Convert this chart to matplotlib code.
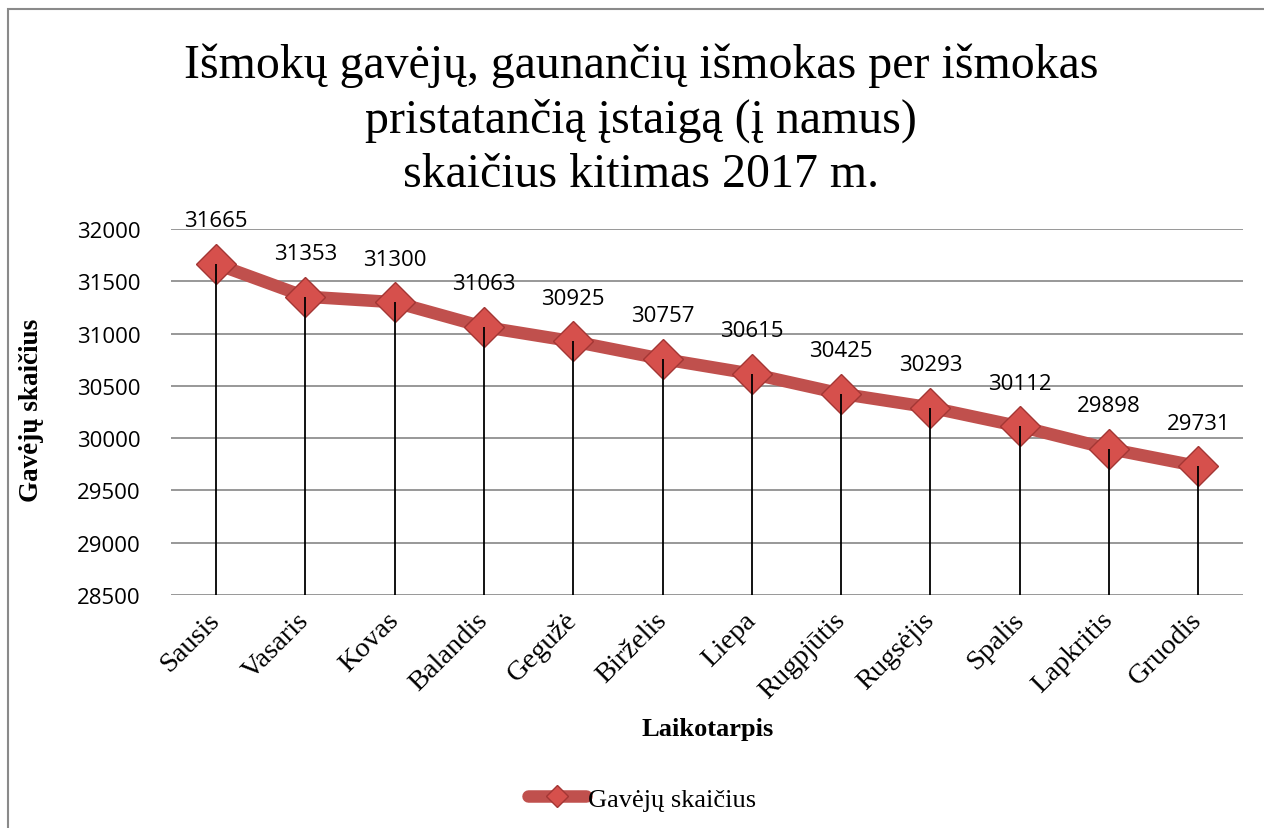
import numpy as np
import matplotlib
matplotlib.use("Agg")
import matplotlib.pyplot as plt
from matplotlib.patches import Rectangle

months = ["Sausis", "Vasaris", "Kovas", "Balandis", "Gegužė", "Birželis",
          "Liepa", "Rugpjūtis", "Rugsėjis", "Spalis", "Lapkritis", "Gruodis"]
recipients = [31665, 31353, 31300, 31063, 30925, 30757,
              30615, 30425, 30293, 30112, 29898, 29731]
y_ticks = [28500, 29000, 29500, 30000, 30500, 31000, 31500, 32000]

serif = "Liberation Serif"
sans = "Open Sans"
line_color = "#C0504D"

fig = plt.figure(figsize=(12.64, 8.29), dpi=100)
ax = fig.add_axes([0.1356, 0.281, 0.8478, 0.4416])

# outer chart border
fig.add_artist(Rectangle((8 / 1264, -0.1), 1.2, (829 - 10) / 829 + 0.1,
                         transform=fig.transFigure, fill=False,
                         edgecolor="#8a8a8a", linewidth=1.5))

x = np.arange(len(months))
ax.plot(x, recipients, color=line_color, linewidth=9, solid_capstyle="round",
        marker="D", markersize=20, markerfacecolor="#D6504C",
        markeredgecolor="#A33634", markeredgewidth=1.0, zorder=3,
        label="Gavėjų skaičius")
ax.vlines(x, y_ticks[0], recipients, color="black", linewidth=1.3, zorder=4)

for xi, v in zip(x, recipients):
    ax.annotate(str(v), (xi, v), xytext=(0, 31), textcoords="offset points",
                ha="center", va="center", fontsize=16, family=sans)

ax.set_xlim(-0.5, len(months) - 0.5)
ax.set_ylim(y_ticks[0], y_ticks[-1])
ax.set_yticks(y_ticks)
ax.set_xticks(x)
ax.set_xticklabels(months, rotation=45, ha="right", va="center",
                   rotation_mode="anchor", family=serif, fontsize=20.5)
for lbl in ax.get_yticklabels():
    lbl.set_family(sans)
    lbl.set_fontsize(16)
ax.tick_params(axis="both", length=0)
ax.tick_params(axis="y", pad=22)
ax.tick_params(axis="x", pad=15)
ax.grid(axis="y", color="#868686", linewidth=1.2)
ax.set_axisbelow(True)
for s in ax.spines.values():
    s.set_visible(False)

fig.text(0.507, 0.855, "Išmokų gavėjų, gaunančių išmokas per išmokas\n"
         "pristatančią įstaigą (į namus)\nskaičius kitimas 2017 m.",
         ha="center", va="center", family=serif, fontsize=34.5,
         linespacing=1.3)
fig.text(0.0253, 1 - 410 / 829, "Gavėjų skaičius", rotation=90,
         ha="center", va="center", family=serif, fontsize=19.5,
         fontweight="bold")
fig.text(0.560, 1 - 730 / 829, "Laikotarpis", ha="center", va="center",
         family=serif, fontsize=19, fontweight="bold")

leg = fig.legend(loc="center", bbox_to_anchor=(0.508, 0.035), frameon=False,
                 prop={"family": serif, "size": 19}, markerscale=0.55,
                 handlelength=2.2, handletextpad=0.1)

fig.savefig("out.png", dpi=100)
